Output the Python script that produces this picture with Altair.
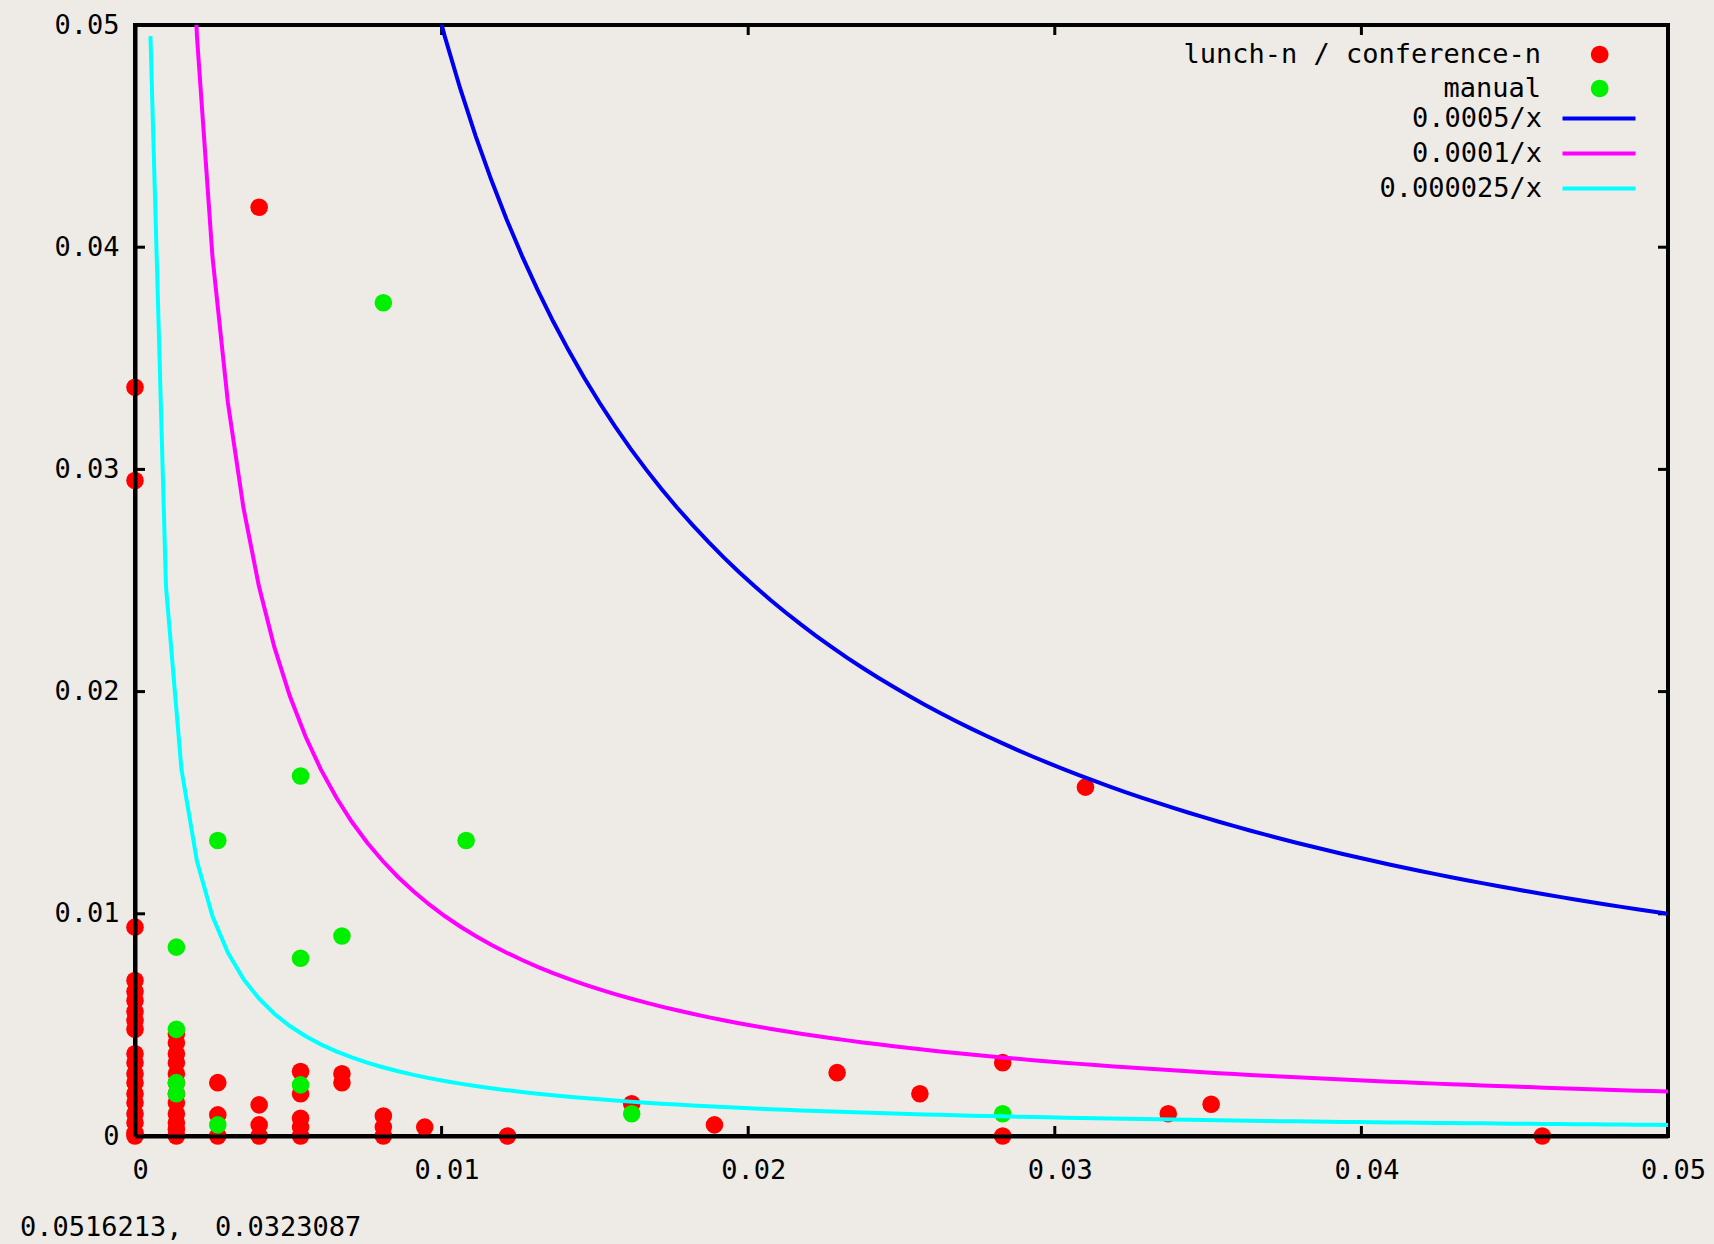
import altair as alt
import pandas as pd

# ---------------- data ----------------
series_names = ["lunch-n / conference-n", "manual"]
series_colors = ["#ff0000", "#00f000"]

red_x = [0, 0, 0, 0, 0, 0, 0, 0, 0, 0, 0, 0, 0, 0, 0, 0, 0, 0, 0,
         0.00135, 0.00135, 0.00135, 0.00135, 0.00135, 0.00135, 0.00135, 0.00135,
         0.00135, 0.00135, 0.00135, 0.00135,
         0.0027, 0.0027, 0.0027,
         0.00405, 0.00405, 0.00405, 0.00405,
         0.0054, 0.0054, 0.0054, 0.0054, 0.0054,
         0.00675, 0.00675,
         0.0081, 0.0081, 0.0081,
         0.00945, 0.01215,
         0.0162, 0.0189, 0.0229, 0.0256, 0.0283, 0.0283, 0.031, 0.0337, 0.0351, 0.0459]
red_y = [0, 0.00014, 0.0006, 0.001, 0.0015, 0.0019, 0.0024, 0.0028, 0.0033, 0.0037,
         0.0048, 0.0052, 0.0056, 0.0061, 0.0065, 0.007, 0.0094, 0.0295, 0.0337,
         0, 0.0003, 0.0006, 0.001, 0.0015, 0.0019, 0.0024, 0.0028,
         0.0033, 0.0037, 0.0042, 0.0046,
         0.0024, 0.00095, 0,
         0.0418, 0.0014, 0.0005, 0,
         0.0029, 0.0019, 0.0008, 0.0004, 0,
         0.0028, 0.0024,
         0.0009, 0.0004, 0,
         0.0004, 0,
         0.00145, 0.0005, 0.00285, 0.0019, 0.0033, 0, 0.0157, 0.001, 0.00143, 0]

green_x = [0.00135, 0.00135, 0.00135, 0.00135, 0.0027, 0.0027, 0.0054, 0.0054, 0.0054,
           0.00675, 0.0081, 0.0108, 0.0162, 0.0283]
green_y = [0.0085, 0.0048, 0.0024, 0.0019, 0.0133, 0.0005, 0.0162, 0.008, 0.0023,
           0.009, 0.0375, 0.0133, 0.001, 0.001]

curve_coefs = [0.0005, 0.0001, 0.000025]
curve_labels = ["0.0005/x", "0.0001/x", "0.000025/x"]
curve_colors = ["#0000f0", "#ff00ff", "#00ffff"]
n_samples = 100  # gnuplot default sampling

x_ticks = [0, 0.01, 0.02, 0.03, 0.04, 0.05]
y_ticks = [0, 0.01, 0.02, 0.03, 0.04, 0.05]
inner_ticks = [0.01, 0.02, 0.03, 0.04]
status_text = "0.0516213,\u00a0 0.0323087"

# ---------------- layout ----------------
W, H = 1533, 1111
FONT = "DejaVu Sans Mono"
FS = 27
TICK = 10
PT_SIZE = 310
LW = 4

# legend symbols drawn to the right of their (right-aligned) labels, gnuplot style
PT_SYMBOL = "M9.2,0A1,1,0,1,1,7.2,0A1,1,0,1,1,9.2,0Z"
LINE_SYMBOL = "M6.8,0H21.4"

points = pd.DataFrame({
    "x": red_x + green_x,
    "y": red_y + green_y,
    "series": [series_names[0]] * len(red_x) + [series_names[1]] * len(green_x),
})
ticks_df = pd.DataFrame({"v": inner_ticks})

xscale = alt.Scale(domain=[0, 0.05], nice=False, zero=False)
yscale = alt.Scale(domain=[0, 0.05], nice=False, zero=False)

xaxis = alt.Axis(values=x_ticks, format=".2~f", title=None, grid=False, ticks=False,
                 tickSize=0, domain=True, domainColor="black", domainWidth=4,
                 labelFont=FONT, labelFontSize=FS, labelColor="black",
                 labelOffset=5,
                 labelPadding=21, labelFlush=False, labelOverlap=False, zindex=1)
yaxis = alt.Axis(values=y_ticks, format=".2~f", title=None, grid=False, ticks=False,
                 tickSize=0, domain=True, domainColor="black", domainWidth=4,
                 labelFont=FONT, labelFontSize=FS, labelColor="black",
                 labelPadding=16, labelFlush=False, labelOverlap=False, zindex=1)

pts = alt.Chart(points).mark_circle(size=PT_SIZE, opacity=1).encode(
    x=alt.X("x:Q", scale=xscale, axis=xaxis),
    y=alt.Y("y:Q", scale=yscale, axis=yaxis),
    color=alt.Color("series:N",
                    scale=alt.Scale(domain=series_names, range=series_colors),
                    sort=series_names,
                    legend=alt.Legend(title=None, orient="none", legendX=1379, legendY=16,
                                      symbolType=PT_SYMBOL, symbolSize=PT_SIZE,
                                      symbolStrokeWidth=0, symbolOpacity=1,
                                      labelAlign="right", labelOffset=0,
                                      symbolOffset=0, labelFont=FONT,
                                      labelFontSize=FS, labelColor="black",
                                      labelLimit=800, rowPadding=6, padding=0)),
)

# the three functions k/x, sampled like gnuplot (100 samples over the x range)
calc = {"x": f"0.05*datum.i/{n_samples - 1}"}
for j, coef in enumerate(curve_coefs):
    calc[f"c{j}"] = f"{coef}/(0.05*datum.i/{n_samples - 1})"
label_expr = " : ".join(
    [f"datum.key == 'c{j}' ? '{lab}'" for j, lab in enumerate(curve_labels[:-1])]
    + [f"'{curve_labels[-1]}'"]
)

curves = (
    alt.Chart(alt.sequence(1, n_samples, as_="i"))
    .transform_calculate(**calc)
    .transform_fold([f"c{j}" for j in range(len(curve_coefs))], as_=["key", "y"])
    .transform_calculate(series=label_expr)
    .mark_line(clip=True, strokeWidth=LW)
    .encode(
        x=alt.X("x:Q", scale=xscale, axis=xaxis),
        y=alt.Y("y:Q", scale=yscale, axis=yaxis),
        stroke=alt.Stroke("series:N",
                          scale=alt.Scale(domain=curve_labels, range=curve_colors),
                          sort=curve_labels,
                          legend=alt.Legend(title=None, orient="none", legendX=1380,
                                            legendY=80, symbolType=LINE_SYMBOL,
                                            symbolSize=100, symbolStrokeWidth=LW,
                                            labelAlign="right", labelOffset=0,
                                            symbolOffset=0, labelFont=FONT,
                                            labelFontSize=FS, labelColor="black",
                                            labelLimit=800, rowPadding=7, padding=0)),
        order=alt.Order("i:Q"),
    )
)

tick_bottom = alt.Chart(ticks_df).mark_rule(color="black", strokeWidth=3).encode(
    x=alt.X("v:Q", scale=xscale, axis=xaxis), y=alt.value(H), y2=alt.value(H - TICK))
tick_top = alt.Chart(ticks_df).mark_rule(color="black", strokeWidth=3).encode(
    x=alt.X("v:Q", scale=xscale, axis=xaxis), y=alt.value(0), y2=alt.value(TICK))
tick_left = alt.Chart(ticks_df).mark_rule(color="black", strokeWidth=3).encode(
    y=alt.Y("v:Q", scale=yscale, axis=yaxis), x=alt.value(0), x2=alt.value(TICK))
tick_right = alt.Chart(ticks_df).mark_rule(color="black", strokeWidth=3).encode(
    y=alt.Y("v:Q", scale=yscale, axis=yaxis), x=alt.value(W), x2=alt.value(W - TICK))

chart = alt.layer(
    tick_bottom, tick_top, tick_left, tick_right, pts, curves
).resolve_scale(color="independent", stroke="independent").properties(
    width=W, height=H,
    autosize=alt.AutoSizeParams(type="none"),
    padding={"left": 135, "top": 25, "right": 46, "bottom": 108},
    background="#eeebe6",
    title=alt.TitleParams(text=status_text, orient="bottom", anchor="start",
                          frame="group", dx=-115, offset=32, font=FONT,
                          fontSize=FS, fontWeight="normal", color="black"),
).configure_view(stroke="black", strokeWidth=4)

chart.save("out.html", embed_options={"renderer": "svg", "actions": False})
